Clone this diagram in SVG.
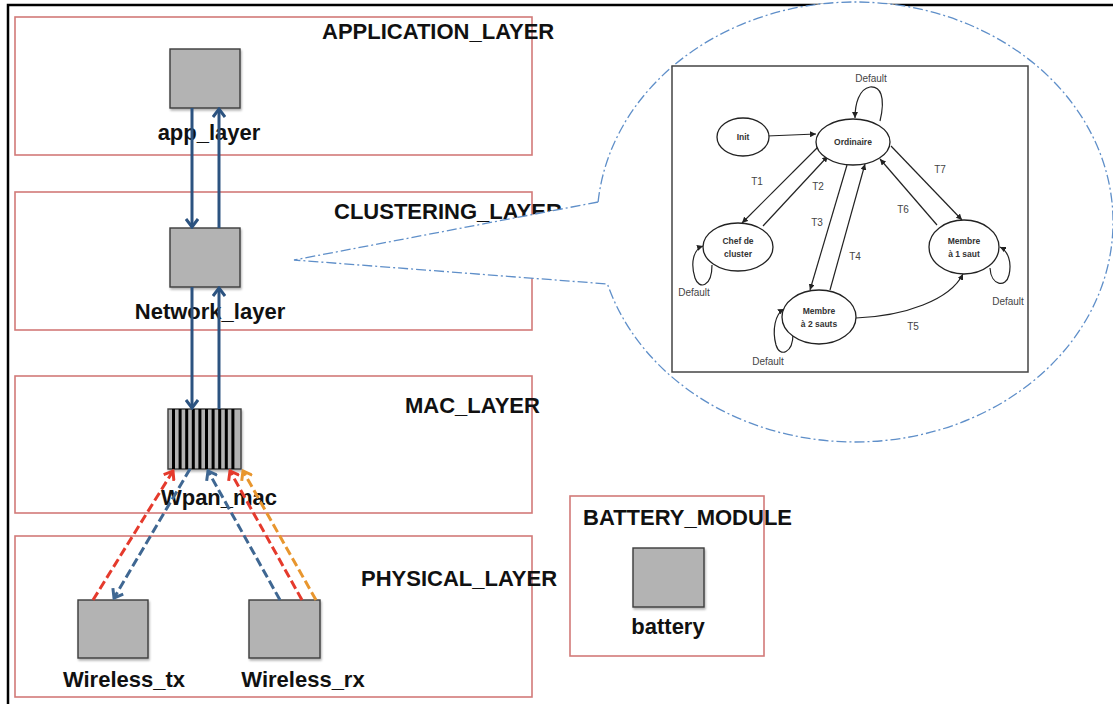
<svg xmlns="http://www.w3.org/2000/svg" width="1113" height="704" viewBox="0 0 1113 704">
<defs>
<style>
.layer{fill:none;stroke:#d27a78;stroke-width:1.6}
.mod{fill:#b3b3b3;stroke:#3c3c3c;stroke-width:1.4}
.lbl{font-family:"Liberation Sans",Arial,sans-serif;font-size:22px;font-weight:bold;fill:#111}
.bl{stroke:#2c5380;stroke-width:3;fill:none}
.dr{stroke:#e53a2c;stroke-width:3;fill:none;stroke-dasharray:9 4}
.db{stroke:#3f6792;stroke-width:3;fill:none;stroke-dasharray:9 4}
.do{stroke:#e8962e;stroke-width:3;fill:none;stroke-dasharray:9 4}
.st{fill:#fff;stroke:#222;stroke-width:1.3}
.se{fill:none;stroke:#222;stroke-width:1.2}
.sn{font-family:"Liberation Sans",Arial,sans-serif;font-size:8.5px;font-weight:bold;fill:#333;text-anchor:middle}
.sl{font-family:"Liberation Sans",Arial,sans-serif;font-size:10px;fill:#444;text-anchor:middle}
</style>
<filter id="sh" x="-20%" y="-20%" width="150%" height="150%">
<feDropShadow dx="1" dy="2" stdDeviation="1.2" flood-color="#000" flood-opacity="0.3"/>
</filter>
<marker id="ab" markerUnits="userSpaceOnUse" viewBox="0 0 14 14" markerWidth="14" markerHeight="14" refX="12" refY="7" orient="auto">
<path d="M4,1 L12,7 L4,13" fill="none" stroke="#2c5380" stroke-width="3" stroke-dasharray="none"/>
</marker>
<marker id="ar" markerUnits="userSpaceOnUse" viewBox="0 0 14 14" markerWidth="14" markerHeight="14" refX="12" refY="7" orient="auto">
<path d="M4,1 L12,7 L4,13" fill="none" stroke="#e53a2c" stroke-width="3" stroke-dasharray="none"/>
</marker>
<marker id="ad" markerUnits="userSpaceOnUse" viewBox="0 0 14 14" markerWidth="14" markerHeight="14" refX="12" refY="7" orient="auto">
<path d="M4,1 L12,7 L4,13" fill="none" stroke="#3f6792" stroke-width="3" stroke-dasharray="none"/>
</marker>
<marker id="ao" markerUnits="userSpaceOnUse" viewBox="0 0 14 14" markerWidth="14" markerHeight="14" refX="12" refY="7" orient="auto">
<path d="M4,1 L12,7 L4,13" fill="none" stroke="#e8962e" stroke-width="3" stroke-dasharray="none"/>
</marker>
<marker id="sa" markerUnits="userSpaceOnUse" viewBox="0 0 6 6" markerWidth="6" markerHeight="6" refX="6" refY="3" orient="auto">
<path d="M0,0 L6,3 L0,6 Z" fill="#222"/>
</marker>
</defs>
<rect x="0" y="0" width="1113" height="704" fill="#fff"/>
<!-- frame -->
<path d="M8,704 L8,5 L1113,5" fill="none" stroke="#000" stroke-width="2.5"/>

<g id="application_layer">
<rect class="layer" x="15" y="17" width="517" height="138"/>
<text class="lbl" x="322" y="39">APPLICATION_LAYER</text>
</g>
<g id="clustering_layer">
<rect class="layer" x="15" y="192" width="517" height="138"/>
<text class="lbl" x="334" y="219">CLUSTERING_LAYER</text>
</g>
<g id="mac_layer">
<rect class="layer" x="15" y="376" width="517" height="137"/>
<text class="lbl" x="405" y="413">MAC_LAYER</text>
</g>
<g id="physical_layer">
<rect class="layer" x="15" y="536" width="517" height="161"/>
<text class="lbl" x="361" y="586">PHYSICAL_LAYER</text>
</g>
<g id="battery_module">
<rect class="layer" x="570" y="496" width="194" height="160"/>
<text class="lbl" x="583" y="525">BATTERY_MODULE</text>
</g>

<g id="app_layer">
<rect class="mod" filter="url(#sh)" x="170" y="49" width="70" height="59"/>
<text class="lbl" x="209" y="140" text-anchor="middle">app_layer</text>
</g>
<g id="network_layer">
<rect class="mod" filter="url(#sh)" x="170" y="228" width="70" height="59"/>
<text class="lbl" x="210" y="319" text-anchor="middle">Network_layer</text>
</g>
<g id="wpan_mac">
<rect class="mod" filter="url(#sh)" x="168" y="409" width="73" height="60"/>
<g fill="#000">
<rect x="172" y="409" width="3" height="60"/>
<rect x="178.6" y="409" width="3" height="60"/>
<rect x="185.2" y="409" width="3" height="60"/>
<rect x="191.8" y="409" width="3" height="60"/>
<rect x="198.4" y="409" width="3" height="60"/>
<rect x="205" y="409" width="3" height="60"/>
<rect x="211.6" y="409" width="3" height="60"/>
<rect x="218.2" y="409" width="3" height="60"/>
<rect x="224.8" y="409" width="3" height="60"/>
<rect x="231.4" y="409" width="3" height="60"/>
</g>
<text class="lbl" x="219" y="505" text-anchor="middle">Wpan_mac</text>
</g>
<g id="wireless_tx">
<rect class="mod" filter="url(#sh)" x="78" y="600" width="70" height="58"/>
<text class="lbl" x="124" y="687" text-anchor="middle">Wireless_tx</text>
</g>
<g id="wireless_rx">
<rect class="mod" filter="url(#sh)" x="249" y="600" width="71" height="58"/>
<text class="lbl" x="303" y="687" text-anchor="middle">Wireless_rx</text>
</g>
<g id="battery">
<rect class="mod" filter="url(#sh)" x="633" y="548" width="71" height="59"/>
<text class="lbl" x="668" y="634" text-anchor="middle">battery</text>
</g>

<g id="connectors">
<line class="bl" x1="192" y1="108" x2="192" y2="227" marker-end="url(#ab)"/>
<line class="bl" x1="219" y1="228" x2="219" y2="109" marker-end="url(#ab)"/>
<line class="bl" x1="192" y1="287" x2="192" y2="408" marker-end="url(#ab)"/>
<line class="bl" x1="219" y1="409" x2="219" y2="288" marker-end="url(#ab)"/>
<line class="dr" x1="93" y1="600" x2="173" y2="471" marker-end="url(#ar)"/>
<line class="db" x1="190" y1="469" x2="114" y2="598" marker-end="url(#ad)"/>
<line class="db" x1="280" y1="600" x2="208" y2="471" marker-end="url(#ad)"/>
<line class="dr" x1="302" y1="600" x2="230" y2="471" marker-end="url(#ar)"/>
<line class="do" x1="316" y1="600" x2="243" y2="471" marker-end="url(#ao)"/>
</g>

<g id="callout">
<path d="M598.1,202 L294,260 L607.5,284 A258,220 0 1 0 598.1,202 Z" fill="#fff" stroke="#5f8fc9" stroke-width="1.3" stroke-dasharray="10 3 2 3"/>
<rect x="672" y="66" width="356" height="306" fill="#fff" stroke="#444" stroke-width="1.5"/>
</g>

<g id="state_edges">
<line class="se" x1="767" y1="136" x2="816" y2="134" marker-end="url(#sa)"/>
<line class="se" x1="819" y1="146" x2="742" y2="223" marker-end="url(#sa)"/>
<line class="se" x1="763" y1="226" x2="828" y2="156" marker-end="url(#sa)"/>
<line class="se" x1="847" y1="165" x2="810" y2="290" marker-end="url(#sa)"/>
<line class="se" x1="830" y1="290" x2="865" y2="164" marker-end="url(#sa)"/>
<line class="se" x1="937" y1="225" x2="880" y2="159" marker-end="url(#sa)"/>
<line class="se" x1="891" y1="146" x2="962" y2="220" marker-end="url(#sa)"/>
<path class="se" d="M856,318 C905,316 950,300 963,274" marker-end="url(#sa)"/>
<path class="se" d="M880,121 C886,96 880,86 870,87 C859,89 855,104 855,118" marker-end="url(#sa)"/>
<path class="se" d="M712,265 C712,287 699,290 695,278 C690,262 694,249 703,246" marker-end="url(#sa)"/>
<path class="se" d="M793,334 C793,353 780,358 776,345 C772,330 775,314 784,309" marker-end="url(#sa)"/>
<path class="se" d="M990,268 C991,286 1006,288 1009,275 C1012,262 1008,251 1000,247" marker-end="url(#sa)"/>
</g>

<g id="state_init">
<ellipse class="st" cx="743" cy="137" rx="26" ry="19"/>
<text class="sn" x="743" y="140">Init</text>
</g>
<g id="state_ordinaire">
<ellipse class="st" cx="853" cy="142" rx="37" ry="23"/>
<text class="sn" x="853" y="145">Ordinaire</text>
</g>
<g id="state_chef">
<ellipse class="st" cx="738" cy="247" rx="35" ry="24"/>
<text class="sn" x="738" y="244">Chef de</text>
<text class="sn" x="738" y="257">cluster</text>
</g>
<g id="state_membre1">
<ellipse class="st" cx="964" cy="247" rx="35" ry="27"/>
<text class="sn" x="964" y="244">Membre</text>
<text class="sn" x="964" y="257">à 1 saut</text>
</g>
<g id="state_membre2">
<ellipse class="st" cx="819" cy="317" rx="37" ry="27"/>
<text class="sn" x="819" y="314">Membre</text>
<text class="sn" x="819" y="327">à 2 sauts</text>
</g>

<g id="state_labels">
<text class="sl" x="871" y="82">Default</text>
<text class="sl" x="757" y="185">T1</text>
<text class="sl" x="818" y="190">T2</text>
<text class="sl" x="817" y="226">T3</text>
<text class="sl" x="855" y="260">T4</text>
<text class="sl" x="903" y="213">T6</text>
<text class="sl" x="940" y="173">T7</text>
<text class="sl" x="913" y="330">T5</text>
<text class="sl" x="694" y="296">Default</text>
<text class="sl" x="768" y="365">Default</text>
<text class="sl" x="1008" y="305">Default</text>
</g>
</svg>
